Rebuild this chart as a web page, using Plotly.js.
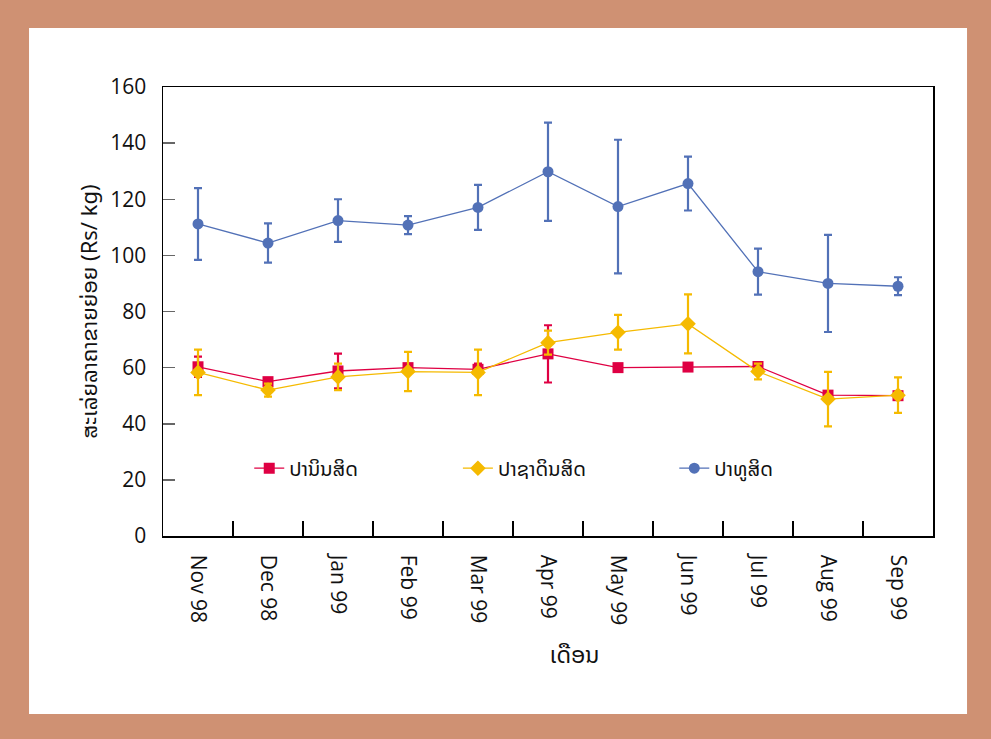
<!DOCTYPE html>
<html>
<head>
<meta charset="utf-8">
<script src="https://cdn.plot.ly/plotly-3.0.1.min.js"></script>
<style>
html,body{margin:0;padding:0;background:#CF9173;}
#chart{width:991px;height:739px;}
</style>
</head>
<body>
<div id="chart"></div>
<script>
const months = ["Nov 98","Dec 98","Jan 99","Feb 99","Mar 99","Apr 99","May 99","Jun 99","Jul 99","Aug 99","Sep 99"];
const seriesNames = ["ປານິນສິດ","ປາຊາດິນສິດ","ປາທູສິດ"];
const freshwaterVals = [60.3, 55.0, 58.8, 60.0, 59.4, 64.9, 60.0, 60.2, 60.4, 50.2, 50.0];
const freshwaterErr  = [3.6, 1.0, 6.2, 0.5, 2.0, 10.2, 0.4, 0.4, 0.5, 0.5, 0.4];
const saltedVals = [58.3, 52.0, 56.7, 58.6, 58.3, 68.9, 72.6, 75.6, 58.6, 48.8, 50.2];
const saltedErr  = [8.1, 2.3, 4.7, 7.0, 8.1, 4.3, 6.2, 10.5, 2.8, 9.7, 6.3];
const marineVals = [111.2, 104.4, 112.4, 110.8, 117.1, 129.8, 117.4, 125.6, 94.2, 90.0, 89.0];
const marineErr  = [12.8, 7.0, 7.6, 3.2, 8.0, 17.5, 23.8, 9.6, 8.2, 17.3, 3.2];
const yTicks = [0,20,40,60,80,100,120,140,160];
const xTitle = "ເດືອນ";
const yTitle = "ສະເລ່ຍລາຄາຂາຍຍ່ອຍ (Rs/ kg)";

const colors = ["#DF0043","#F5BA00","#5271B7"];
const symbols = ["square","diamond","circle"];
const vals = [freshwaterVals, saltedVals, marineVals];
const errs = [freshwaterErr, saltedErr, marineErr];
const legendIds = ["legend","legend2","legend3"];
const legendX = [0.112, 0.383, 0.664];

const laoFont = "'Noto Sans Lao', 'DejaVu Sans', sans-serif";
const tickFont = "'Open Sans', sans-serif";

const traces = vals.map((v,i)=>({
  type:"scatter", mode:"lines+markers",
  name: seriesNames[i],
  legend: legendIds[i],
  x: months, y: v,
  line:{color:colors[i], width:1.3},
  marker:{symbol:symbols[i], color:colors[i], size: i===1?12:11},
  error_y:{type:"data", array:errs[i], visible:true, color:colors[i], thickness:2.2, width:4}
}));

const layout = {
  width:991, height:739,
  margin:{l:163, r:58, t:87, b:203},
  paper_bgcolor:"#CF9173",
  plot_bgcolor:"#FFFFFF",
  showlegend:true,
  font:{family:tickFont, color:"#111", size:17},
  shapes:[{type:"rect", xref:"paper", yref:"paper", x0:-0.174, x1:1.0442, y0:-0.3964, y1:1.1314,
           fillcolor:"#FFFFFF", line:{width:0}, layer:"below"}],
  xaxis:{
    type:"category", range:[-0.5,10.5],
    showline:true, linecolor:"#000", linewidth:1.5, mirror:true,
    ticks:"inside", tickson:"boundaries", ticklen:15, tickcolor:"#000", tickwidth:1.2,
    tickangle:90, tickfont:{size:21, family:tickFont}, ticklabelstandoff:13,
    showgrid:false, zeroline:false
  },
  yaxis:{
    range:[0,160], tickvals:yTicks,
    showline:true, linecolor:"#000", linewidth:1.5, mirror:true,
    ticks:"inside", ticklen:12, tickcolor:"#666", tickwidth:1.5,
    tickfont:{size:21, family:tickFont}, ticklabelstandoff:11,
    showgrid:false, zeroline:false,
    title:{text:yTitle, font:{size:22, family:laoFont}, standoff:6}
  },
  annotations:[{text:xTitle, xref:"paper", yref:"paper", x:0.534, y:-0.265,
                xanchor:"center", yanchor:"middle", showarrow:false,
                font:{size:23, family:laoFont, color:"#111"}}]
};
legendIds.forEach((id,i)=>{
  layout[id] = {orientation:"h", x:legendX[i], y:0.151, xanchor:"left", yanchor:"middle",
                bgcolor:"rgba(0,0,0,0)", font:{size:20, family:laoFont, color:"#111"}};
});
Plotly.newPlot("chart", traces, layout, {displayModeBar:false, staticPlot:true});
</script>
</body>
</html>
